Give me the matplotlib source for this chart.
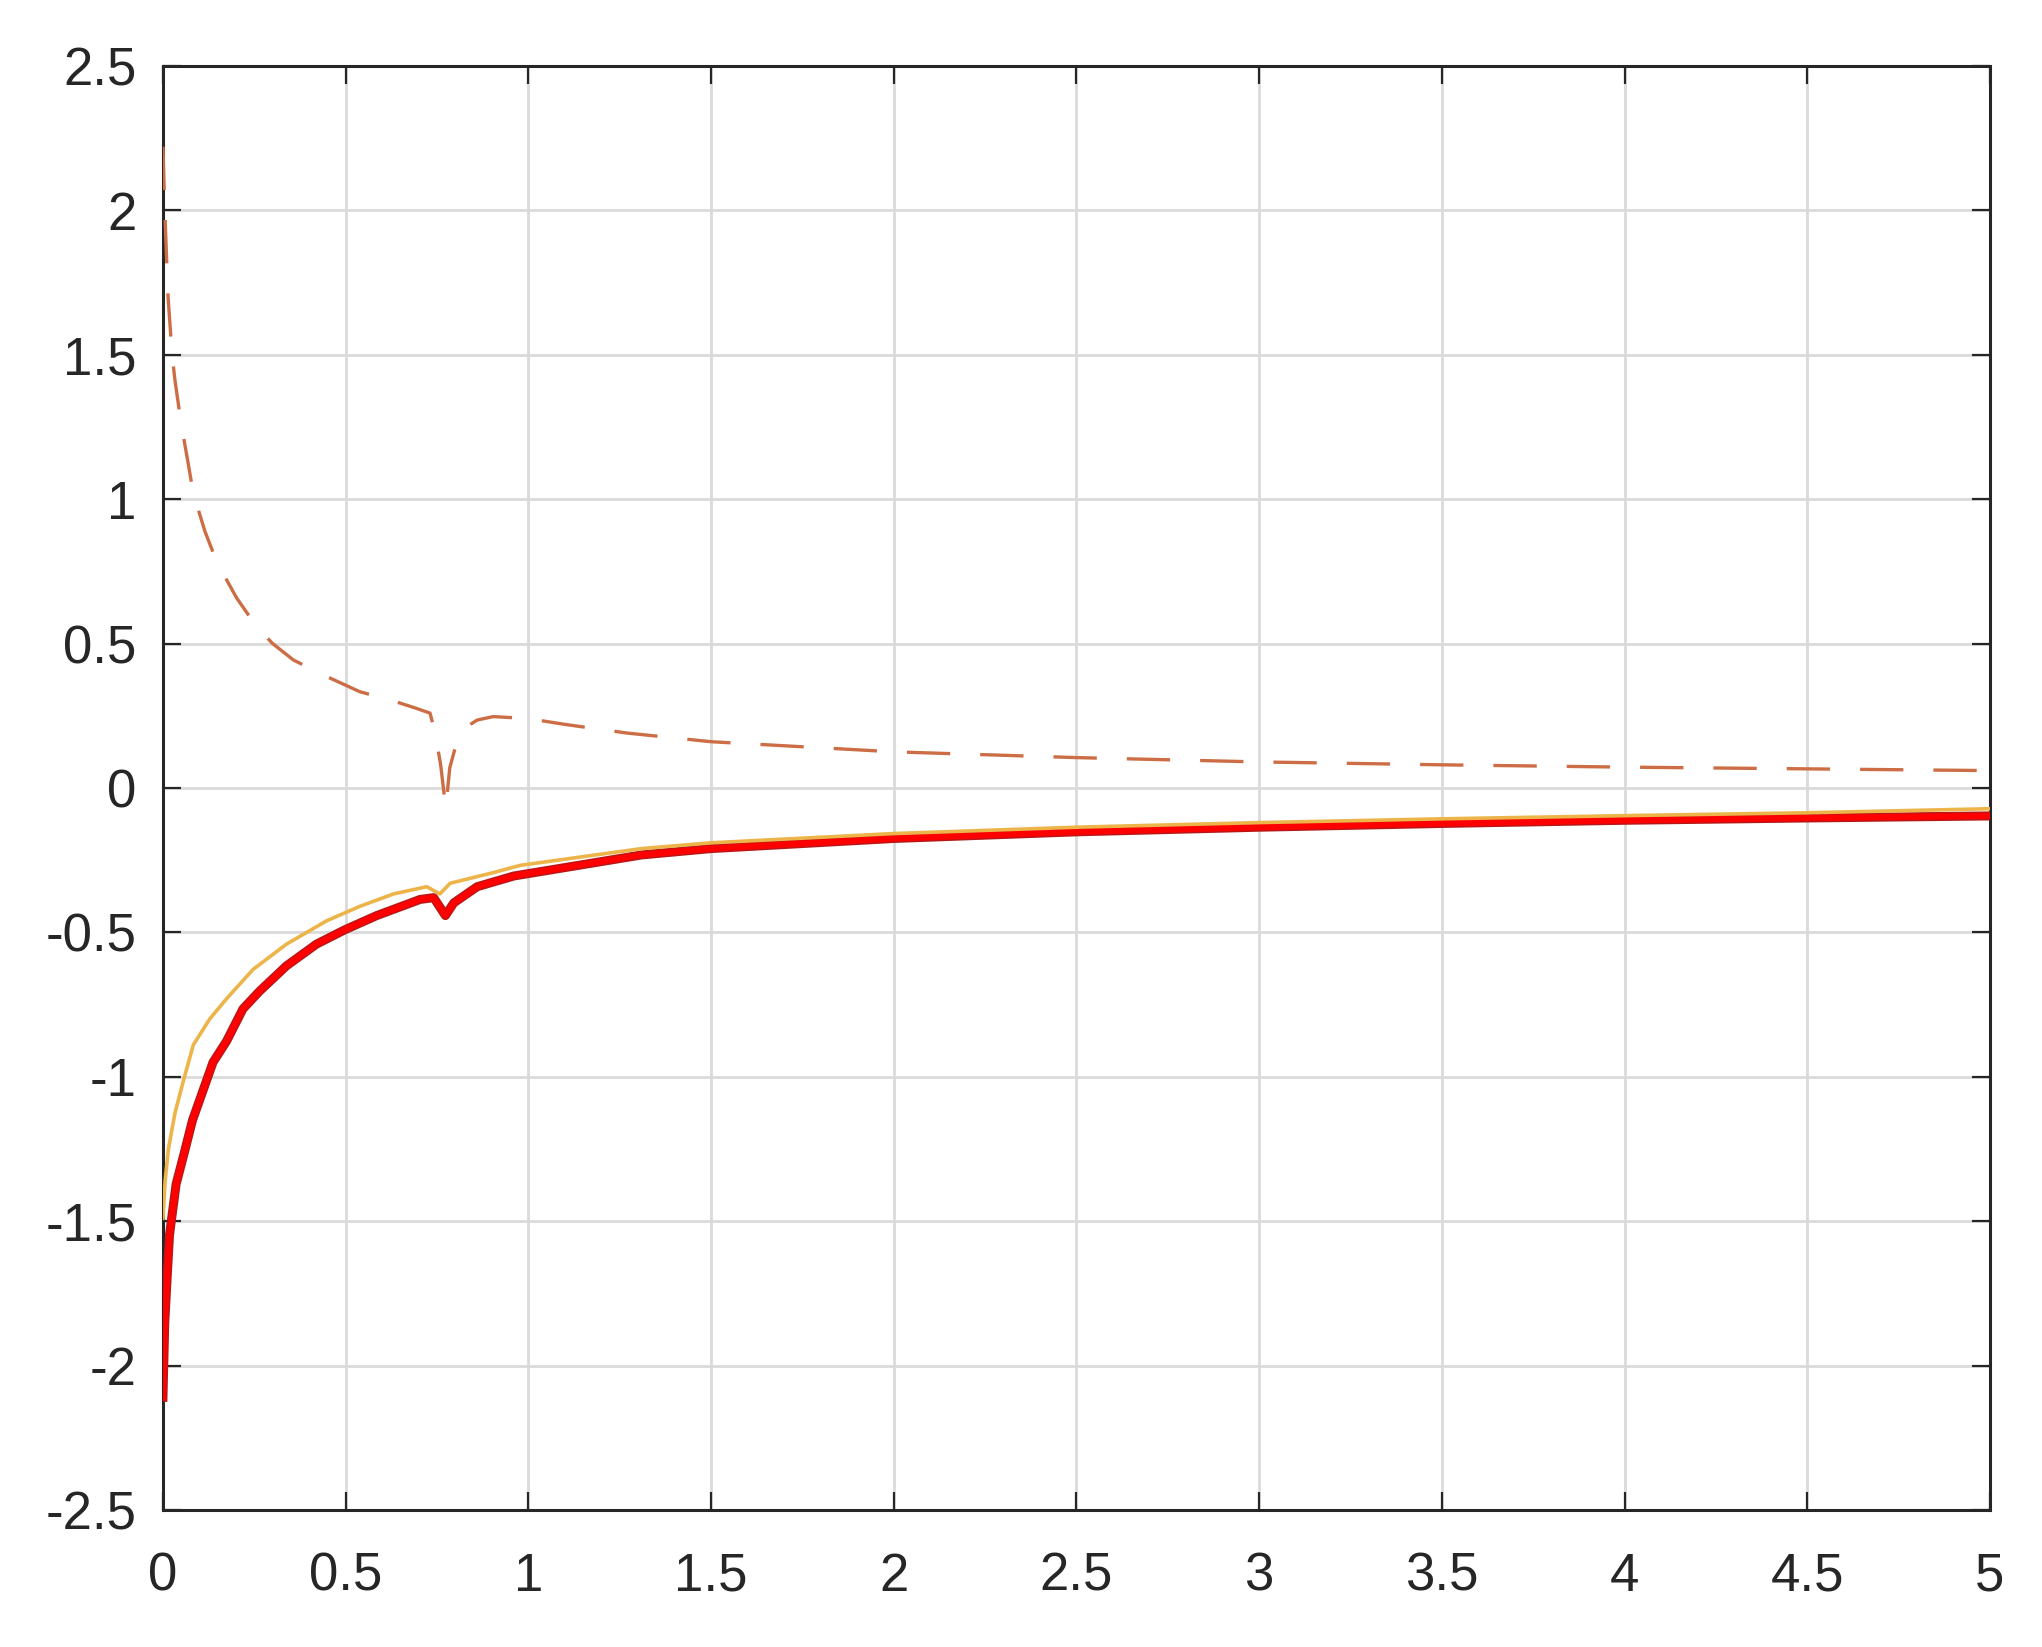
import matplotlib
matplotlib.use("Agg")
import matplotlib.pyplot as plt

# courbe en tirets (orange)
dash_x = [0, 0.005, 0.014, 0.025, 0.033, 0.05, 0.069, 0.083, 0.1, 0.115, 0.138, 0.17,
          0.202, 0.256, 0.3, 0.357, 0.439, 0.539, 0.621, 0.69, 0.731, 0.745, 0.76,
          0.774, 0.785, 0.8, 0.813, 0.835, 0.86, 0.904, 1.0, 1.1, 1.27, 1.5, 2, 2.5,
          3, 3.5, 4, 4.5, 5]
dash_y = [2.22, 2.0, 1.7, 1.5, 1.41, 1.26, 1.124, 1.02, 0.95, 0.888, 0.813, 0.73,
          0.657, 0.559, 0.5, 0.443, 0.391, 0.333, 0.305, 0.277, 0.259, 0.19, 0.08,
          -0.07, 0.07, 0.14, 0.178, 0.215, 0.235, 0.247, 0.24, 0.22, 0.19, 0.16, 0.125,
          0.105, 0.09, 0.08, 0.072, 0.066, 0.06]

# courbe jaune
yellow_x = [0, 0.006, 0.015, 0.033, 0.056, 0.083, 0.128, 0.174, 0.247, 0.338, 0.448,
            0.539, 0.631, 0.722, 0.758, 0.786, 0.905, 0.978, 1.31, 1.5, 2, 2.5, 3,
            3.5, 4, 4.5, 5]
yellow_y = [-1.49, -1.36, -1.25, -1.125, -1.014, -0.89, -0.8, -0.73, -0.628, -0.541,
            -0.46, -0.41, -0.367, -0.342, -0.367, -0.33, -0.293, -0.268, -0.21, -0.19,
            -0.158, -0.136, -0.12, -0.107, -0.096, -0.086, -0.072]

# courbe rouge (epaisse)
red_x = [0, 0.005, 0.013, 0.018, 0.036, 0.059, 0.081, 0.109, 0.137, 0.174, 0.219,
         0.265, 0.338, 0.42, 0.498, 0.585, 0.704, 0.741, 0.773, 0.796, 0.86, 0.96,
         1.31, 1.5, 2, 2.5, 3, 3.5, 4, 4.5, 5]
red_y = [-2.11, -1.85, -1.66, -1.547, -1.372, -1.26, -1.15, -1.05, -0.95, -0.877,
         -0.765, -0.703, -0.616, -0.541, -0.491, -0.442, -0.386, -0.38, -0.442,
         -0.398, -0.342, -0.305, -0.232, -0.21, -0.175, -0.152, -0.136, -0.123,
         -0.112, -0.104, -0.097]

x_ticks = [0, 0.5, 1, 1.5, 2, 2.5, 3, 3.5, 4, 4.5, 5]
y_ticks = [-2.5, -2, -1.5, -1, -0.5, 0, 0.5, 1, 1.5, 2, 2.5]

plt.rcParams['font.family'] = ['Liberation Sans', 'DejaVu Sans']

fig = plt.figure(figsize=(20.42, 16.47), dpi=100)
ax = fig.add_axes([0.0798, 0.0832, 0.8947, 0.8768])

ax.plot(red_x, red_y, color='#B51818', linewidth=6.5, solid_joinstyle='round', zorder=3)
ax.plot(red_x, red_y, color='#FF0000', linewidth=4.5, solid_joinstyle='round', zorder=3)
ax.plot(yellow_x, yellow_y, color='#EDB44A', linewidth=2.6, zorder=4)
ax.plot(dash_x, dash_y, color='#CC6D45', linewidth=2.4, linestyle=(0, (13, 9)), zorder=4)

ax.set_xlim(0, 5)
ax.set_ylim(-2.5, 2.5)
ax.set_xticks(x_ticks)
ax.set_yticks(y_ticks)
ax.set_xticklabels([f'{v:g}' for v in x_ticks])
ax.set_yticklabels([f'{v:g}' for v in y_ticks])

ax.grid(True, color='#dadada', linewidth=2)
ax.set_axisbelow(True)
ax.tick_params(axis='both', direction='in', length=13, width=1.6, color='#262626',
               labelsize=38, labelcolor='#262626', top=True, right=True)
ax.tick_params(axis='x', pad=30)
ax.tick_params(axis='y', pad=19)
for s in ax.spines.values():
    s.set_linewidth(2.2)
    s.set_color('#262626')

fig.savefig('out.png', dpi=100, facecolor='white')
